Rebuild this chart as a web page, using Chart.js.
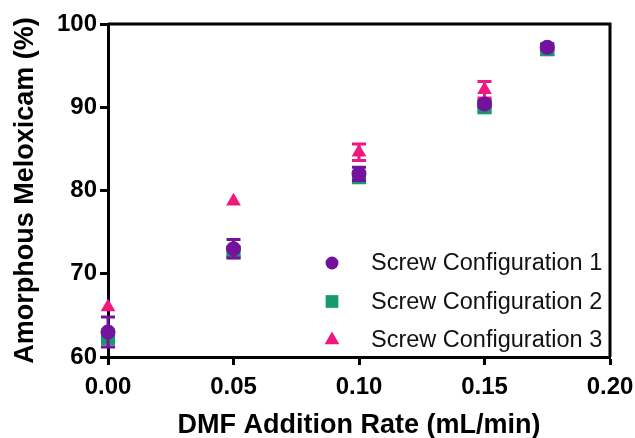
<!DOCTYPE html>
<html>
<head>
<meta charset="utf-8">
<script src="https://cdn.jsdelivr.net/npm/chart.js@4.4.1/dist/chart.umd.min.js"></script>
<style>
  html, body { margin: 0; padding: 0; background: #fff; }
  #wrap { width: 635px; height: 438px; }
</style>
</head>
<body>
<div id="wrap"><canvas id="chart" width="635" height="438"></canvas></div>
<script>
// Datos
const rates = [0, 0.05, 0.10, 0.15, 0.175];
const config1 = [63.0, 73.0, 82.0, 90.4, 97.2];
const config1Err = [1.8, 1.1, 0.8, 0.4, 0.3];
const config2 = [62.4, 72.6, 81.6, 90.0, 97.0];
const config2Err = [0.8, 0.5, 0.5, 0.5, 0.3];
const config3 = [66.0, 78.7, 84.6, 92.1, 96.7];
const config3Err = [0, 0, 1.0, 1.0, 0.4];
const seriesLabels = ["Screw Configuration 1", "Screw Configuration 2", "Screw Configuration 3"];
const yTicks = [60, 70, 80, 90, 100];
const xTicks = [0, 0.05, 0.10, 0.15, 0.20];

const purple = "#73129c";
const green = "#17996f";
const pink = "#f0177f";
const fontFam = '"Liberation Sans", Arial, sans-serif';

const toPoints = (vals) => vals.map((v, i) => ({ x: rates[i], y: v }));

// Barras de error, dibujadas justo antes de cada serie
const errorBars = {
  id: "errorBars",
  beforeDatasetDraw(chart, args) {
    const ds = chart.data.datasets[args.index];
    if (!ds.errors) return;
    const { ctx, scales } = chart;
    ctx.save();
    ctx.strokeStyle = ds.borderColor;
    ctx.lineWidth = 3;
    ds.data.forEach((p, i) => {
      const e = ds.errors[i];
      if (!e) return;
      const x = scales.x.getPixelForValue(p.x);
      const yTop = scales.y.getPixelForValue(p.y + e);
      const yBot = scales.y.getPixelForValue(p.y - e);
      ctx.beginPath();
      ctx.moveTo(x, yTop); ctx.lineTo(x, yBot);
      ctx.moveTo(x - 7, yTop); ctx.lineTo(x + 7, yTop);
      ctx.moveTo(x - 7, yBot); ctx.lineTo(x + 7, yBot);
      ctx.stroke();
    });
    ctx.restore();
  }
};

// Marco superior y derecho
const frame = {
  id: "frame",
  afterDraw(chart) {
    const { ctx, chartArea } = chart;
    ctx.save();
    ctx.strokeStyle = "#000";
    ctx.lineWidth = 3;
    ctx.beginPath();
    ctx.moveTo(chartArea.left, chartArea.top);
    ctx.lineTo(chartArea.right, chartArea.top);
    ctx.lineTo(chartArea.right, chartArea.bottom);
    ctx.stroke();
    ctx.restore();
  }
};

// Leyenda dentro del area del grafico
const innerLegend = {
  id: "innerLegend",
  afterDraw(chart) {
    const { ctx, chartArea } = chart;
    const sizes = [6.5, 9, 8.5];
    ctx.save();
    ctx.font = "23.5px " + fontFam;
    ctx.textBaseline = "middle";
    chart.data.datasets.forEach((ds, i) => {
      const y = chartArea.top + 239 + i * 38.5;
      const x = chartArea.left + 224;
      ctx.fillStyle = ds.backgroundColor;
      Chart.helpers.drawPoint(ctx, { pointStyle: ds.pointStyle, radius: sizes[i], borderWidth: 0 }, x, y);
      ctx.fillStyle = "#111";
      ctx.fillText(ds.label, x + 39, y + 1);
    });
    ctx.restore();
  }
};

new Chart(document.getElementById("chart"), {
  type: "scatter",
  data: {
    datasets: [
      { label: seriesLabels[0], data: toPoints(config1), errors: config1Err, pointStyle: "circle", pointRadius: 7.5,
        backgroundColor: purple, borderColor: purple, borderWidth: 0 },
      { label: seriesLabels[1], data: toPoints(config2), errors: config2Err, pointStyle: "rect", pointRadius: 10,
        backgroundColor: green, borderColor: green, borderWidth: 0 },
      { label: seriesLabels[2], data: toPoints(config3), errors: config3Err, pointStyle: "triangle", pointRadius: 8.5,
        backgroundColor: pink, borderColor: pink, borderWidth: 0 }
    ]
  },
  options: {
    responsive: false,
    animation: false,
    clip: false,
    layout: { padding: { top: 24, right: 25, left: 0, bottom: 0 } },
    plugins: { legend: { display: false }, tooltip: { enabled: false } },
    scales: {
      x: {
        type: "linear",
        min: 0, max: 0.2,
        afterBuildTicks: (scale) => { scale.ticks = xTicks.map(v => ({ value: v })); },
        afterFit: (scale) => { scale.height = 81; scale.paddingRight = 25; },
        ticks: { callback: (v) => v.toFixed(2), color: "#000", padding: 8, maxRotation: 0,
          font: { family: fontFam, size: 24, weight: "bold" } },
        grid: { drawOnChartArea: false, tickLength: 8, tickWidth: 3, tickColor: "#000" },
        border: { display: true, width: 3, color: "#000" },
        title: { display: true, text: "DMF Addition Rate (mL/min)", color: "#000", padding: { top: 0, bottom: -4 },
          font: { family: fontFam, size: 27, weight: "bold" } }
      },
      y: {
        min: 60, max: 100,
        afterBuildTicks: (scale) => { scale.ticks = yTicks.map(v => ({ value: v })); },
        afterFit: (scale) => { scale.width = 108; },
        ticks: { color: "#000", padding: 3,
          font: { family: fontFam, size: 24, weight: "bold" } },
        grid: { drawOnChartArea: false, tickLength: 8, tickWidth: 3, tickColor: "#000" },
        border: { display: true, width: 3, color: "#000" },
        title: { display: true, text: "Amorphous Meloxicam (%)", color: "#000", padding: { top: 9, bottom: 0 },
          font: { family: fontFam, size: 27, weight: "bold" } }
      }
    }
  },
  plugins: [errorBars, frame, innerLegend]
});
</script>
</body>
</html>
